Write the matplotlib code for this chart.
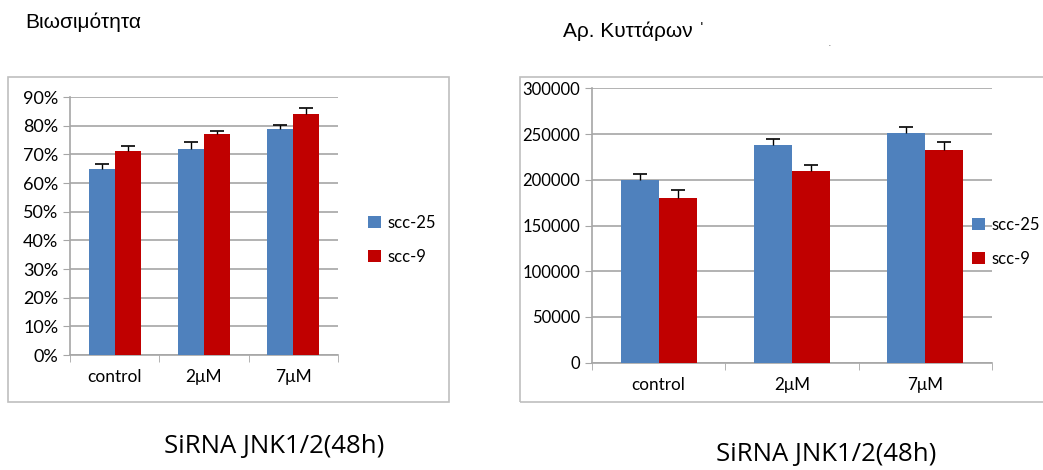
import numpy as np
import matplotlib.pyplot as plt
from matplotlib.patches import Rectangle
from matplotlib.ticker import FuncFormatter

# data
groups = ['control', '2μM', '7μM']
series = ['scc-25', 'scc-9']

viab_scc25 = [65, 72, 79]
viab_scc9 = [71, 77, 84]
viab_err25 = [1.8, 2.2, 1.4]
viab_err9 = [2.0, 1.2, 2.0]

cells_scc25 = [200000, 238500, 251000]
cells_scc9 = [180000, 210000, 232500]
cells_err25 = [6500, 6500, 7000]
cells_err9 = [9000, 6000, 9000]

blue = '#4F81BD'
red = '#C00000'
grid_c = '#a6a6a6'
tick_font = 'Lato'

W, H = 1043, 470
fig = plt.figure(figsize=(W / 100, H / 100), dpi=100)

# gray frames around the two charts
for (x0, y0, x1, y1) in [(8, 77, 449, 402), (520, 77, 1050, 402)]:
    fig.patches.append(Rectangle((x0 / W, 1 - y1 / H), (x1 - x0) / W, (y1 - y0) / H,
                                 transform=fig.transFigure, fill=False,
                                 edgecolor='#bfbfbf', linewidth=1.2))


def bar_panel(ax, v1, v2, e1, e2, bw, fs_x, fs_y):
    x = np.arange(len(groups))
    for off, vals, errs, col, lab in [(-bw / 2, v1, e1, blue, series[0]),
                                      (bw / 2, v2, e2, red, series[1])]:
        ax.bar(x + off, vals, bw, color=col, label=lab, zorder=3)
        # upward-only error bars with a cap on top
        ax.errorbar(x + off, vals, yerr=[np.zeros(3), errs], fmt='none',
                    ecolor='black', elinewidth=1, capsize=0, zorder=4)
        ax.plot(x + off, np.array(vals) + np.array(errs), ls='none', marker='_',
                markersize=10, markeredgewidth=1.2, color='black', zorder=4)
    ax.set_xlim(-0.5, 2.5)
    ax.set_xticks(x)
    ax.set_xticklabels(groups, fontsize=fs_x, family=tick_font)
    ax.set_xticks([-0.5, 0.5, 1.5, 2.5], minor=True)
    ax.tick_params(axis='x', which='major', length=0, pad=10)
    ax.tick_params(axis='x', which='minor', length=5, color=grid_c)
    ax.tick_params(axis='y', length=5, color=grid_c, labelsize=fs_y)
    ax.yaxis.grid(True, color=grid_c, linewidth=1.2, zorder=0)
    for s in ['top', 'right']:
        ax.spines[s].set_visible(False)
    for s in ['left', 'bottom']:
        ax.spines[s].set_color(grid_c)
        ax.spines[s].set_linewidth(1.2)


# left: viability
ax1 = fig.add_axes([70 / W, 1 - 355 / H, (338 - 70) / W, (355 - 97) / H])
bar_panel(ax1, viab_scc25, viab_scc9, viab_err25, viab_err9, 0.29, 12.5, 13)
ax1.set_ylim(0, 90)
ax1.set_yticks(np.arange(0, 91, 10))
ax1.yaxis.set_major_formatter(FuncFormatter(lambda v, p: f'{int(v)}%'))
for lab in ax1.get_yticklabels():
    lab.set_family(tick_font)
ax1.legend(loc='center left', bbox_to_anchor=(368 / W, 1 - 240 / H),
           bbox_transform=fig.transFigure, frameon=False, borderpad=0, borderaxespad=0,
           handlelength=0.75, handleheight=0.75, handletextpad=0.4, labelspacing=1.1,
           prop=dict(family=tick_font, size=12))

# right: cell counts
ax2 = fig.add_axes([592 / W, 1 - 362.7 / H, (992 - 592) / W, (362.7 - 88.3) / H])
bar_panel(ax2, cells_scc25, cells_scc9, cells_err25, cells_err9, 0.285, 12.3, 12)
ax2.set_ylim(0, 300000)
ax2.set_yticks(np.arange(0, 300001, 50000))
ax2.yaxis.set_major_formatter(FuncFormatter(lambda v, p: f'{int(v)}'))
for lab in ax2.get_yticklabels():
    lab.set_family(tick_font)
ax2.legend(loc='center left', bbox_to_anchor=(972 / W, 1 - 242 / H),
           bbox_transform=fig.transFigure, frameon=False, borderpad=0, borderaxespad=0,
           handlelength=0.75, handleheight=0.75, handletextpad=0.4, labelspacing=1.1,
           prop=dict(family=tick_font, size=12))

# header and footer text
fig.text(25 / W, 1 - 22 / H, 'Βιωσιμότητα', fontsize=15, family='Liberation Sans', va='center')
fig.text(563 / W, 1 - 31 / H, 'Αρ. Κυττάρων ˈ', fontsize=15, family='Liberation Sans', va='center')
fig.text(830 / W, 1 - 46 / H, '·', fontsize=8, color='#777777', ha='center', va='center')
fig.text(274 / W, 1 - 447 / H, 'SiRNA JNK1/2(48h)', fontsize=18.5, family='Open Sans',
         ha='center', va='center')
fig.text(826 / W, 1 - 455 / H, 'SiRNA JNK1/2(48h)', fontsize=18.5, family='Open Sans',
         ha='center', va='center')

fig.savefig('out.png', dpi=100)
